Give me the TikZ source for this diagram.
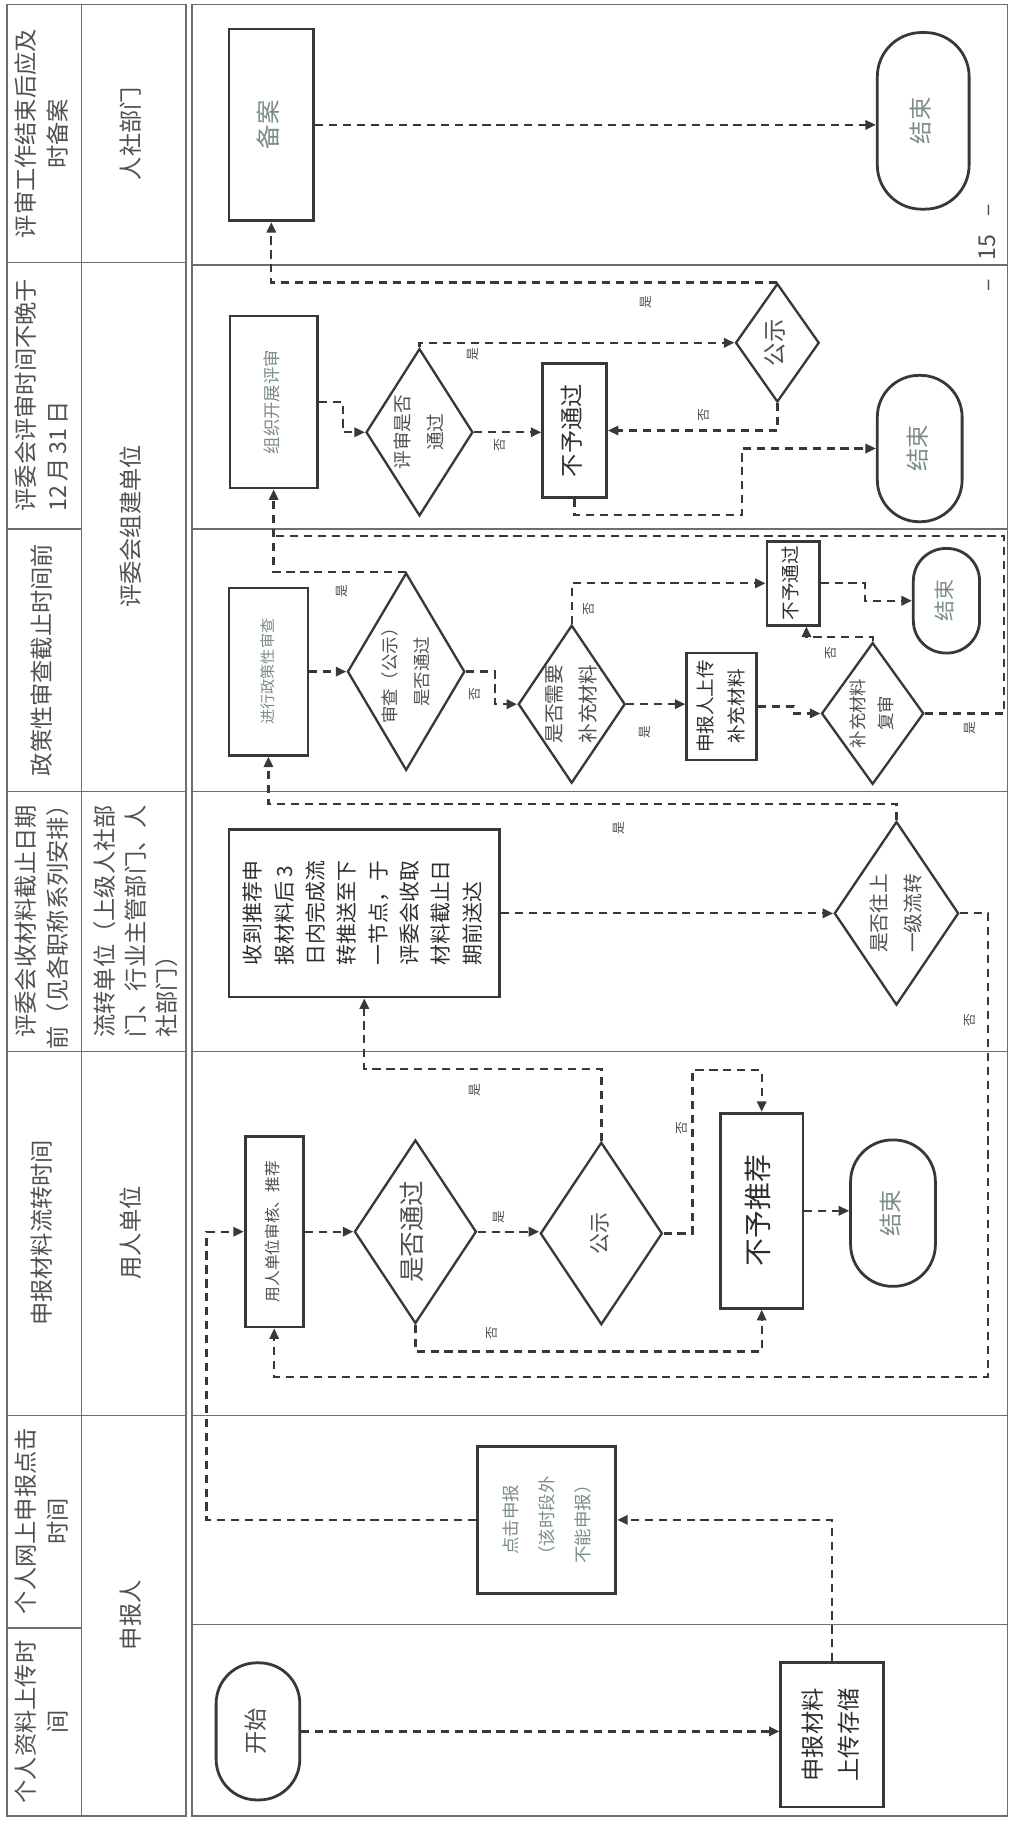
\documentclass[tikz,border=0pt]{standalone}
\usepackage{fontspec}
\setmainfont{Noto Sans CJK SC}
\usepackage{graphicx}
\usetikzlibrary{shapes.geometric,arrows.meta,calc}
\definecolor{ln}{HTML}{383838}
\definecolor{gl}{HTML}{6E6E6E}
\definecolor{tx}{HTML}{505050}
\definecolor{tl}{HTML}{7C8C8C}
\definecolor{td}{HTML}{2E2E2E}
\newcommand{\vtc}[1]{\rotatebox{90}{\begin{tabular}{@{}c@{}}#1\end{tabular}}}
\newcommand{\vtl}[1]{\rotatebox{90}{\begin{tabular}{@{}l@{}}#1\end{tabular}}}
\newcommand{\fsz}[2]{\fontsize{#1}{#2}\selectfont}
\tikzset{
  gridln/.style={draw=gl, line width=1.4pt},
  procbox/.style={draw=ln, line width=2.4pt, rectangle, inner sep=0pt, text=tx},
  decis/.style={draw=ln, line width=2pt, diamond, inner sep=-6pt, text=tx},
  termnl/.style={draw=ln, line width=2.4pt, rectangle, inner sep=0pt, text=tl},
  flowar/.style={draw=ln, line width=2pt, dash pattern=on 7pt off 5pt, -{Triangle[length=9pt,width=8pt]}},
  flowln/.style={draw=ln, line width=2pt, dash pattern=on 7pt off 5pt},
  lbl/.style={inner sep=0pt, text=tx, font=\fsz{11}{11}},
  hdrtxt/.style={inner sep=0pt, text=tx, font=\fsz{20}{27}},
}
\begin{document}
\begin{tikzpicture}[x=1pt,y=-1pt]
\useasboundingbox (0,0) rectangle (871,1568);
\fill[white] (0,0) rectangle (871,1568);
% header table
\draw[gridln] (6,4) rectangle (160,1563);
\draw[gridln] (70,4) -- (70,1563);
\foreach \yy in {226,455,681,905,1218,1401} {\draw[gridln] (6,\yy) -- (70,\yy);}
\foreach \yy in {226,681,905,1218} {\draw[gridln] (70,\yy) -- (160,\yy);}
% main area
\draw[gridln] (165,4) rectangle (867,1563);
\foreach \yy in {228,455,681,905,1218,1398} {\draw[gridln] (165,\yy) -- (867,\yy);}

\node[hdrtxt] (h1) at (38,115) {\vtc{评审工作结束后应及\\时备案}};
\node[hdrtxt] (h2) at (38,340) {\vtl{评委会评审时间不晚于\\12\,月\,31\,日}};
\node[hdrtxt] (h3) at (38,568) {\vtc{政策性审查截止时间前}};
\node[hdrtxt] (h4) at (38,793) {\vtc{评委会收材料截止日期\\前（见各职称系列安排）}};
\node[hdrtxt] (h5) at (38,1061) {\vtc{申报材料流转时间}};
\node[hdrtxt] (h6) at (38,1309) {\vtc{个人网上申报点击\\时间}};
\node[hdrtxt] (h7) at (38,1482) {\vtc{个人资料上传时\\间}};
\node[hdrtxt] (c1) at (115,115) {\vtc{人社部门}};
\node[hdrtxt] (c2) at (115,453) {\vtc{评委会组建单位}};
\node[hdrtxt] (c3) at (119,793) {\vtl{流转单位（上级人社部\\门、行业主管部门、人\\社部门）}};
\node[hdrtxt] (c4) at (115,1061) {\vtc{用人单位}};
\node[hdrtxt] (c5) at (115,1390) {\vtc{申报人}};

% band 1
\node[procbox, minimum width=73, minimum height=165, font=\fsz{21}{27}, text=tl] (ba) at (233.5,107.5) {\vtc{备案}};
\node[termnl, minimum width=79, minimum height=152, rounded corners=38pt, font=\fsz{20}{27}] (e1) at (794.5,104) {\vtc{结束}};
% band 2
\node[procbox, minimum width=75, minimum height=148, font=\fsz{15}{20}, text=tl] (zz) at (235.5,346) {\vtc{组织开展评审}};
\node[decis, minimum width=92, minimum height=144, aspect=0.64, font=\fsz{16}{28}] (ps1) at (361,372) {\vtc{评审是否\\通过}};
\node[procbox, minimum width=55, minimum height=115, font=\fsz{20}{27}, text=td] (bt2) at (494.5,370.5) {\vtc{不予通过}};
\node[decis, minimum width=72, minimum height=102, aspect=0.7, font=\fsz{20}{27}] (gs2) at (669,295) {\vtc{公示}};
\node[termnl, minimum width=73, minimum height=126, rounded corners=36pt, font=\fsz{20}{27}] (e2) at (791.5,386) {\vtc{结束}};
% band 3
\node[procbox, minimum width=68, minimum height=144, font=\fsz{13}{20}, text=tl] (zc) at (231,578) {\vtc{进行政策性审查}};
\node[decis, minimum width=101, minimum height=170, aspect=0.59, font=\fsz{15}{27}] (sc) at (349.5,578) {\vtc{审查（公示）\\是否通过}};
\node[decis, minimum width=92, minimum height=136, aspect=0.68, font=\fsz{17}{29}] (xb) at (492,606) {\vtc{是否需要\\补充材料}};
\node[procbox, minimum width=60, minimum height=92, font=\fsz{16}{27}, text=td] (sb) at (621,608) {\vtc{申报人上传\\补充材料}};
\node[decis, minimum width=88, minimum height=122, aspect=0.72, font=\fsz{15}{24}] (fs) at (751,614) {\vtc{补充材料\\复审}};
\node[procbox, minimum width=45, minimum height=72, font=\fsz{16}{20}, text=td] (bt3) at (682.5,502) {\vtc{不予通过}};
\node[termnl, minimum width=57, minimum height=90, rounded corners=28pt, font=\fsz{18}{24}] (e3) at (814.5,517) {\vtc{结束}};
% band 4
\node[procbox, minimum width=233, minimum height=144, font=\fsz{18}{27}, text=td] (dt) at (313.5,786) {\vtl{收到推荐申\\报材料后~3\\日内完成流\\转推送至下\\一节点，于\\评委会收取\\材料截止日\\期前送达}};
\node[decis, minimum width=107, minimum height=158, aspect=0.68, font=\fsz{17}{30}] (sw) at (771.5,786) {\vtc{是否往上\\一级流转}};
% band 5
\node[procbox, minimum width=50, minimum height=164, font=\fsz{13.5}{20}, text=tx] (yd) at (236,1060) {\vtc{用人单位审核、推荐}};
\node[decis, minimum width=105, minimum height=158, aspect=0.66, font=\fsz{22}{27}] (tg) at (357.5,1060) {\vtc{是否通过}};
\node[decis, minimum width=105, minimum height=157, aspect=0.67, font=\fsz{18}{27}] (gs5) at (517.5,1061.5) {\vtc{公示}};
\node[procbox, minimum width=71, minimum height=168, font=\fsz{24}{30}, text=td] (bj) at (655.5,1042) {\vtc{不予推荐}};
\node[termnl, minimum width=73, minimum height=126, rounded corners=36pt, font=\fsz{20}{27}] (e5) at (768.5,1044) {\vtc{结束}};
% band 6/7
\node[procbox, minimum width=119, minimum height=126, font=\fsz{15}{31}, text=tl] (dj) at (470.5,1308) {\vtc{点击申报\\（该时段外\\不能申报）}};
\node[procbox, minimum width=88, minimum height=124, font=\fsz{20}{31}, text=td] (st) at (716,1493) {\vtc{申报材料\\上传存储}};
\node[termnl, minimum width=72, minimum height=118, rounded corners=35pt, font=\fsz{20}{27}, text=tx] (ks) at (222,1490) {\vtc{开始}};

% page number
\node[inner sep=0pt, text=tx, font=\fsz{20}{20}] (pg) at (850,213) {\rotatebox{90}{–\hspace{16pt}15\hspace{16pt}–}};

% connectors band 1/2
\draw[flowar] (ba.east) -- (ba.east -| e1.west);
\draw[flowar] (zz.east) -- ++(21,0) |- (ps1.west);
\draw[flowar] (ps1.east) -- (ps1.east -| bt2.west);
\draw[flowar] (ps1.north) |- (gs2.west);
\draw[flowar] (gs2.south) |- (bt2.east);
\draw[flowar] (bt2.south) -- ++(0,14) -- ++(144,0) |- (e2.west);
\draw[flowar] (gs2.north) -| (ba.south);
% band 3
\draw[flowar] (zc.east) -- (zc.east -| sc.west);
\draw[flowar] (sc.east) -- ++(25,0) |- (xb.west);
\draw[flowar] (xb.north) |- (bt3.west);
\draw[flowar] (xb.east) -- (xb.east -| sb.west);
\draw[flowar] (sb.east) -- ++(31,0) |- (fs.west);
\draw[flowar] (fs.north) -- ++(0,-4) -| ($(bt3.south)+(11.5,0)$);
\draw[flowar] (bt3.east) -- ++(38,0) |- (e3.west);
\coordinate (j1) at ($(zz.south)+(0,40)$);
\draw[flowln] (fs.east) -- ++(68,0) |- (j1);
\draw[flowar] (sc.north) -| (zz.south);
% band 4
\draw[flowar] (dt.east) -- (dt.east -| sw.west);
\draw[flowar] (sw.north) -- ++(0,-14) -| (zc.south);
\draw[flowar] (sw.east) -- ++(24,0) -- ++(0,399) -| (yd.south);
% band 5
\draw[flowar] (yd.east) -- (yd.east -| tg.west);
\draw[flowar] (tg.east) -- (tg.east -| gs5.west);
\draw[flowar] (gs5.north) -- ++(0,-62) -| (dt.south);
\draw[flowar] (gs5.east) -- ++(25,0) -- ++(0,-140.5) -| (bj.north);
\draw[flowar] (tg.south) -- ++(0,23) -| (bj.south);
\draw[flowar] (bj.east) -- (bj.east -| e5.west);
% band 6/7
\draw[flowar] (ks.east) -- (ks.east -| st.west);
\draw[flowar] (st.north) |- (dj.east);
\draw[flowar] (dj.west) -- ++(-232,0) |- (yd.west);

% labels
\node[lbl] (l1) at (556,260) {\rotatebox{90}{是}};
\node[lbl] (l2) at (407,305) {\rotatebox{90}{是}};
\node[lbl] (l3) at (430,383) {\rotatebox{90}{否}};
\node[lbl] (l4) at (606,357) {\rotatebox{90}{否}};
\node[lbl] (l5) at (294,509) {\rotatebox{90}{是}};
\node[lbl] (l6) at (409,597) {\rotatebox{90}{否}};
\node[lbl] (l7) at (507,524) {\rotatebox{90}{否}};
\node[lbl] (l8) at (555,630) {\rotatebox{90}{是}};
\node[lbl] (l9) at (715,562) {\rotatebox{90}{否}};
\node[lbl] (l10) at (835,627) {\rotatebox{90}{是}};
\node[lbl] (l11) at (533,713) {\rotatebox{90}{是}};
\node[lbl] (l12) at (835,878) {\rotatebox{90}{否}};
\node[lbl] (l13) at (409,938) {\rotatebox{90}{是}};
\node[lbl] (l14) at (429,1047) {\rotatebox{90}{是}};
\node[lbl] (l15) at (587,971) {\rotatebox{90}{否}};
\node[lbl] (l16) at (423,1147) {\rotatebox{90}{否}};
\end{tikzpicture}
\end{document}
